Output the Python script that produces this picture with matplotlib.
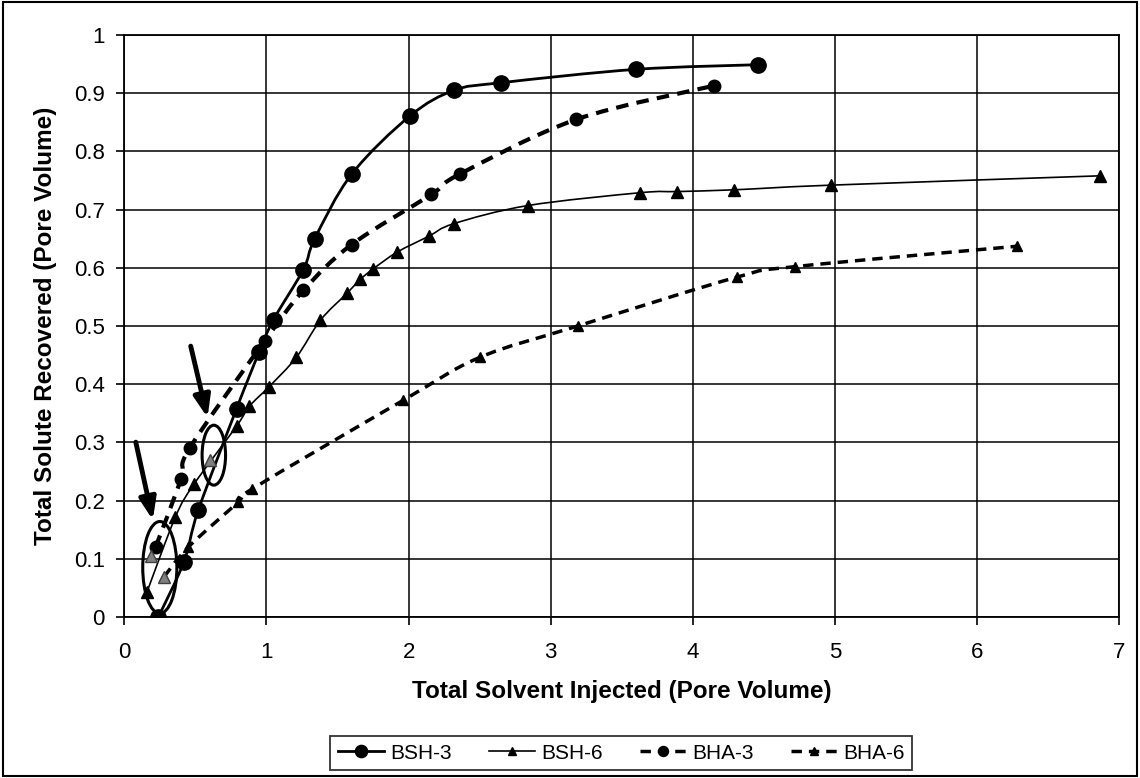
import numpy as np
import matplotlib
matplotlib.use("Agg")
import matplotlib.pyplot as plt
from matplotlib.path import Path
from matplotlib.patches import PathPatch, Ellipse, Rectangle
from matplotlib.lines import Line2D

plt.rcParams['font.family'] = ['Liberation Sans', 'DejaVu Sans']

# data (pore volumes)
bsh3_x = [0.24, 0.42, 0.52, 0.79, 0.95, 1.05, 1.26, 1.34, 1.60, 2.01, 2.32, 2.65, 3.60, 4.46]
bsh3_y = [0.0, 0.095, 0.183, 0.358, 0.456, 0.511, 0.597, 0.650, 0.761, 0.861, 0.905, 0.918, 0.941, 0.949]

bsh6_x = [0.16, 0.36, 0.49, 0.79, 0.88, 1.02, 1.21, 1.38, 1.57, 1.66, 1.75, 1.92, 2.14, 2.32, 2.84, 3.63, 3.89, 4.29, 4.97, 6.86]
bsh6_y = [0.043, 0.172, 0.228, 0.328, 0.362, 0.396, 0.446, 0.510, 0.557, 0.580, 0.598, 0.627, 0.654, 0.676, 0.707, 0.729, 0.731, 0.734, 0.742, 0.758]

bha3_x = [0.22, 0.40, 0.46, 0.99, 1.26, 1.60, 2.16, 2.36, 3.18, 4.15]
bha3_y = [0.120, 0.237, 0.290, 0.475, 0.561, 0.640, 0.726, 0.761, 0.855, 0.913]

bha6_x = [0.28, 0.45, 0.80, 0.90, 1.96, 2.50, 3.19, 4.31, 4.72, 6.28]
bha6_y = [0.069, 0.120, 0.197, 0.220, 0.372, 0.446, 0.500, 0.584, 0.602, 0.637]

# shaded (hatched) points inside the circled regions
mark_x = [0.19, 0.28, 0.60]
mark_y = [0.104, 0.069, 0.269]

x_ticks = [0, 1, 2, 3, 4, 5, 6, 7]
y_ticks = [0, 0.1, 0.2, 0.3, 0.4, 0.5, 0.6, 0.7, 0.8, 0.9, 1]
y_labels = ['0', '0.1', '0.2', '0.3', '0.4', '0.5', '0.6', '0.7', '0.8', '0.9', '1']


def smooth_path(xs, ys):
    # Excel-style smoothed line: cubic bezier through every point
    pts = np.column_stack([xs, ys]).astype(float)
    n = len(pts)
    verts = [pts[0]]
    codes = [Path.MOVETO]
    for i in range(n - 1):
        p0 = pts[i - 1] if i > 0 else pts[i]
        p1 = pts[i]
        p2 = pts[i + 1]
        p3 = pts[i + 2] if i + 2 < n else pts[i + 1]
        c1 = p1 + (p2 - p0) / 6.0
        c2 = p2 - (p3 - p1) / 6.0
        verts += [c1, c2, p2]
        codes += [Path.CURVE4] * 3
    return Path(verts, codes)


fig = plt.figure(figsize=(11.4, 7.78), dpi=100)
ax = fig.add_axes([0.109, 0.207, 0.873, 0.748])

series = [
    (bsh3_x, bsh3_y, '-', 2.0, 'o', 11, 'BSH-3'),
    (bsh6_x, bsh6_y, '-', 1.2, '^', 8, 'BSH-6'),
    (bha3_x, bha3_y, (0, (3, 2)), 3.0, 'o', 9, 'BHA-3'),
    (bha6_x, bha6_y, (0, (3, 2)), 2.5, '^', 7, 'BHA-6'),
]

handles = []
for xs, ys, ls, lw, mk, ms, lab in series:
    patch = PathPatch(smooth_path(xs, ys), facecolor='none', edgecolor='black',
                      linewidth=lw, linestyle=ls, capstyle='butt', zorder=3)
    ax.add_patch(patch)
    ax.plot(xs, ys, linestyle='none', marker=mk, markersize=ms, color='black', zorder=4)
    handles.append(Line2D([], [], color='black', linestyle=ls, linewidth=min(lw, 2.5),
                          marker=mk, markersize=ms * 0.8, label=lab))

ax.plot(mark_x, mark_y, linestyle='none', marker='^', markersize=8, color='#808080',
        markeredgecolor='#404040', zorder=5)

# circled regions and arrows
ax.add_patch(Ellipse((0.25, 0.085), 0.24, 0.158, fill=False, edgecolor='black', linewidth=2.2, zorder=6))
ax.add_patch(Ellipse((0.63, 0.278), 0.165, 0.103, fill=False, edgecolor='black', linewidth=2.2, zorder=6))
arrow_style = dict(arrowstyle='-|>,head_length=1.3,head_width=0.5', color='black', lw=3.5)
ax.annotate('', xy=(0.205, 0.162), xytext=(0.077, 0.305), arrowprops=arrow_style, zorder=7)
ax.annotate('', xy=(0.59, 0.338), xytext=(0.463, 0.47), arrowprops=arrow_style, zorder=7)

ax.set_xlim(0, 7)
ax.set_ylim(0, 1)
ax.set_xticks(x_ticks)
ax.set_xticklabels([str(t) for t in x_ticks])
ax.set_yticks(y_ticks)
ax.set_yticklabels(y_labels)
ax.grid(True, color='black', linewidth=1.1)
ax.set_axisbelow(True)
for sp in ax.spines.values():
    sp.set_linewidth(1.3)
    sp.set_color('black')
ax.tick_params(direction='out', length=6, width=1.2, labelsize=16)
ax.tick_params(axis='x', pad=12)
ax.tick_params(axis='y', pad=8)

ax.set_xlabel('Total Solvent Injected (Pore Volume)', fontsize=17.5, fontweight='bold', labelpad=12)
ax.set_ylabel('Total Solute Recovered (Pore Volume)', fontsize=17.5, fontweight='bold', labelpad=12)

leg = fig.legend(handles=handles, loc='center', bbox_to_anchor=(0.545, 0.032), ncol=4,
                 fontsize=15, frameon=True, fancybox=False, edgecolor='black',
                 handlelength=2.2, handletextpad=0.3, columnspacing=1.8, borderpad=0.35)
leg.get_frame().set_linewidth(1.3)

# frame around the whole chart
fig.patches.append(Rectangle((0.003, 0.003), 0.994, 0.994, transform=fig.transFigure,
                             fill=False, edgecolor='black', linewidth=1.5))

fig.savefig('out.png', dpi=100)
